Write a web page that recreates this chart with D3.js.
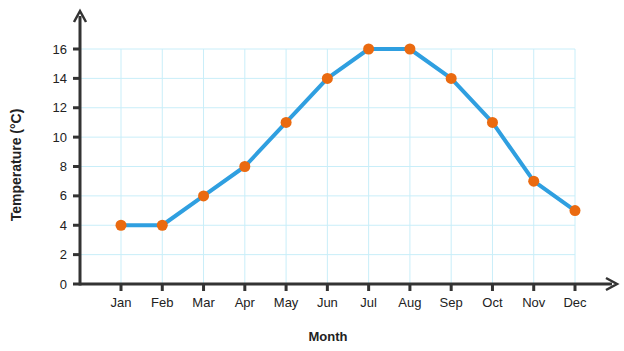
<!DOCTYPE html>
<html>
<head>
<meta charset="utf-8">
<script src="https://cdn.jsdelivr.net/npm/d3@7"></script>
<style>
  body { margin: 0; background: #fff; }
  svg text { font-family: "Liberation Sans", Arial, sans-serif; fill: #222; }
</style>
</head>
<body>
<div id="chart"></div>
<script>
// data
const months = ["Jan", "Feb", "Mar", "Apr", "May", "Jun", "Jul", "Aug", "Sep", "Oct", "Nov", "Dec"];
const temps = [4, 4, 6, 8, 11, 14, 16, 16, 14, 11, 7, 5];
const yTicks = [0, 2, 4, 6, 8, 10, 12, 14, 16];

const W = 624, H = 351;
const ox = 80, oy = 284;

const svg = d3.select("#chart").append("svg")
    .attr("width", W)
    .attr("height", H);

const x = d3.scalePoint()
    .domain(months)
    .range([121, 575]);

const y = d3.scaleLinear()
    .domain([0, 16])
    .range([oy, 49]);

// grid
const grid = svg.append("g").attr("stroke", "#c9eef9").attr("stroke-width", 1);
grid.selectAll("line.h")
    .data(yTicks.filter(d => d > 0))
    .join("line")
    .attr("x1", ox).attr("x2", x("Dec"))
    .attr("y1", d => y(d)).attr("y2", d => y(d));
grid.selectAll("line.v")
    .data(months)
    .join("line")
    .attr("x1", d => x(d)).attr("x2", d => x(d))
    .attr("y1", oy).attr("y2", y(16));

// axes
const axisColor = "#333";
svg.append("line")
    .attr("x1", ox).attr("x2", 612)
    .attr("y1", oy).attr("y2", oy)
    .attr("stroke", axisColor).attr("stroke-width", 3);
svg.append("line")
    .attr("x1", ox).attr("x2", ox)
    .attr("y1", oy + 1.5).attr("y2", 16)
    .attr("stroke", axisColor).attr("stroke-width", 3);
// arrow heads
svg.append("path")
    .attr("d", `M${ox - 6},${22} L${ox},${11} L${ox + 6},${22}`)
    .attr("fill", "none").attr("stroke", axisColor).attr("stroke-width", 2.5);
svg.append("path")
    .attr("d", `M${606},${oy - 6} L${617},${oy} L${606},${oy + 6}`)
    .attr("fill", "none").attr("stroke", axisColor).attr("stroke-width", 2.5);

// y ticks
svg.append("g").selectAll("line")
    .data(yTicks)
    .join("line")
    .attr("x1", ox - 7).attr("x2", ox)
    .attr("y1", d => y(d)).attr("y2", d => y(d))
    .attr("stroke", axisColor).attr("stroke-width", 3);
svg.append("g").selectAll("text")
    .data(yTicks)
    .join("text")
    .attr("x", ox - 13)
    .attr("y", d => y(d))
    .attr("dy", "0.35em")
    .attr("text-anchor", "end")
    .style("font-size", "13px")
    .text(d => d);

// x ticks
svg.append("g").selectAll("line")
    .data(months)
    .join("line")
    .attr("x1", d => x(d)).attr("x2", d => x(d))
    .attr("y1", oy).attr("y2", oy + 7)
    .attr("stroke", axisColor).attr("stroke-width", 3);
svg.append("g").selectAll("text")
    .data(months)
    .join("text")
    .attr("x", d => x(d))
    .attr("y", 307)
    .attr("text-anchor", "middle")
    .style("font-size", "13px")
    .text(d => d);

// axis titles
svg.append("text")
    .attr("x", 328).attr("y", 341)
    .attr("text-anchor", "middle")
    .style("font-size", "13px").style("font-weight", "bold")
    .text("Month");
svg.append("text")
    .attr("transform", "translate(21,165) rotate(-90)")
    .attr("text-anchor", "middle")
    .style("font-size", "14px").style("font-weight", "bold")
    .text("Temperature (°C)");

// line
const line = d3.line()
    .x((d, i) => x(months[i]))
    .y(d => y(d));
svg.append("path")
    .datum(temps)
    .attr("d", line)
    .attr("fill", "none")
    .attr("stroke", "#2f9fe0")
    .attr("stroke-width", 4)
    .attr("stroke-linejoin", "round");

// dots
svg.append("g").selectAll("circle")
    .data(temps)
    .join("circle")
    .attr("cx", (d, i) => x(months[i]))
    .attr("cy", d => y(d))
    .attr("r", 5.5)
    .attr("fill", "#ea6a10");
</script>
</body>
</html>
